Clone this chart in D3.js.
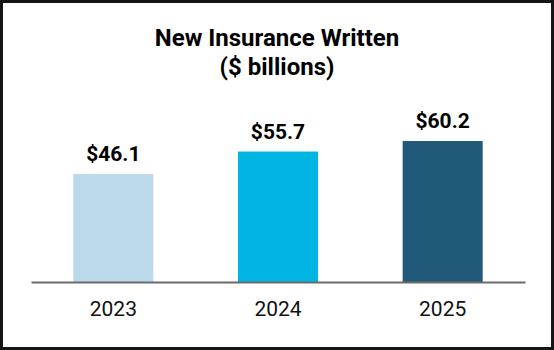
<!DOCTYPE html>
<html>
<head>
<meta charset="utf-8">
<script src="https://cdn.jsdelivr.net/npm/d3@7"></script>
<style>
html,body{margin:0;padding:0;background:#fff;}
svg{display:block;font-family:Roboto, "Noto Sans", sans-serif;}
</style>
</head>
<body>
<svg id="chart" width="554" height="350"></svg>
<script>
const titleLines = ["New Insurance Written", "($ billions)"];
const categories = ["2023", "2024", "2025"];
const values = [46.1, 55.7, 60.2];
const valueLabels = ["$46.1", "$55.7", "$60.2"];
const colors = ["#BAD9EA", "#00B5E2", "#215A78"];

const W = 554, H = 350;
const svg = d3.select("#chart");

// frame
svg.append("rect")
  .attr("x", 1.5).attr("y", 1.5)
  .attr("width", W - 3).attr("height", H - 3)
  .attr("fill", "#fff").attr("stroke", "#151515").attr("stroke-width", 3);

const baseY = 282;
const x = d3.scaleBand()
  .domain(categories)
  .range([31, 525])
  .paddingInner(0.514)
  .paddingOuter(0.257);

const y = d3.scaleLinear()
  .domain([0, 60.2])
  .range([baseY, 141]);

// title
svg.append("text")
  .attr("x", 277).attr("y", 46)
  .attr("text-anchor", "middle")
  .attr("font-size", 24).attr("font-weight", 700).attr("fill", "#000")
  .selectAll("tspan").data(titleLines).join("tspan")
  .attr("x", 277).attr("dy", (d, i) => i === 0 ? 0 : 29)
  .text(d => d);

// bars
svg.selectAll("rect.bar").data(categories).join("rect")
  .attr("class", "bar")
  .attr("x", d => x(d))
  .attr("width", x.bandwidth())
  .attr("y", (d, i) => y(values[i]))
  .attr("height", (d, i) => baseY - y(values[i]))
  .attr("fill", (d, i) => colors[i]);

// value labels
svg.selectAll("text.val").data(categories).join("text")
  .attr("class", "val")
  .attr("x", d => x(d) + x.bandwidth() / 2)
  .attr("y", (d, i) => y(values[i]) - 13)
  .attr("text-anchor", "middle")
  .attr("font-size", 21).attr("font-weight", 700).attr("fill", "#000")
  .text((d, i) => valueLabels[i]);

// axis
const axis = svg.append("g")
  .attr("transform", `translate(0,${baseY})`)
  .call(d3.axisBottom(x).tickSize(0).tickPadding(19));
axis.select(".domain").attr("stroke", "#6b6b6b").attr("stroke-width", 2);
axis.selectAll(".tick text")
  .attr("font-size", 21).attr("fill", "#111")
  .attr("font-family", "Roboto, sans-serif");
</script>
</body>
</html>
